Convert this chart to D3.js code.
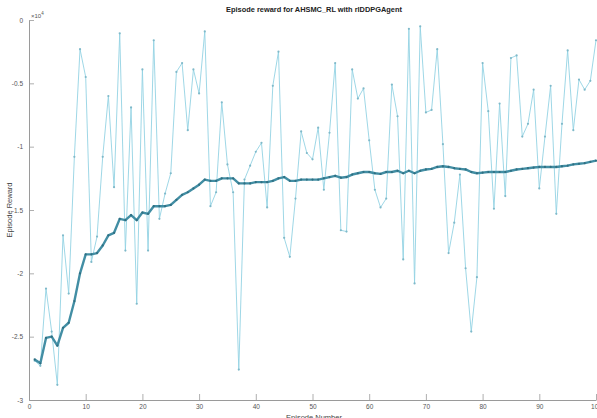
<!DOCTYPE html>
<html>
<head>
<meta charset="utf-8">
<script src="https://cdn.jsdelivr.net/npm/d3@7"></script>
<style>
  html, body { margin: 0; padding: 0; background: #fff; }
  svg { display: block; font-family: "Liberation Sans", Arial, sans-serif; }
</style>
</head>
<body>
<svg id="chart" width="597" height="418"></svg>
<script>
// Episode index 1..100
const episodes = d3.range(1, 101);

// Reward per episode (units of 1e4)
const episodeReward = [
  -2.69, -2.73, -2.12, -2.46, -2.88, -1.70, -2.16, -1.08, -0.23, -0.45,
  -1.91, -1.71, -1.08, -0.60, -1.32, -0.105, -1.82, -0.69, -2.24, -0.39,
  -1.82, -0.16, -1.57, -1.37, -1.21, -0.41, -0.34, -0.87, -0.39, -0.58,
  -0.09, -1.47, -1.36, -0.65, -1.14, -1.36, -2.76, -1.26, -1.15, -1.04,
  -0.97, -1.48, -0.52, -0.25, -1.72, -1.87, -1.41, -0.88, -1.05, -1.10,
  -0.85, -1.34, -0.89, -0.34, -1.66, -1.67, -0.39, -0.62, -0.54, -0.95,
  -1.34, -1.48, -1.41, -0.51, -0.76, -1.89, -0.07, -2.08, -0.05, -0.73,
  -0.71, -0.23, -0.98, -1.84, -1.60, -1.22, -1.96, -2.46, -2.03, -0.34,
  -0.72, -1.49, -0.66, -1.39, -0.30, -0.28, -0.92, -0.82, -0.55, -1.33,
  -0.92, -0.52, -1.53, -0.82, -0.24, -0.87, -0.47, -0.55, -0.48, -0.16
];

// Average reward (units of 1e4)
const averageReward = [
  -2.68, -2.71, -2.51, -2.50, -2.57, -2.43, -2.39, -2.22, -2.00, -1.85,
  -1.85, -1.84, -1.78, -1.70, -1.68, -1.57, -1.58, -1.54, -1.58, -1.52,
  -1.53, -1.47, -1.47, -1.47, -1.46, -1.42, -1.38, -1.36, -1.33, -1.30,
  -1.26, -1.27, -1.27, -1.25, -1.25, -1.25, -1.29, -1.29, -1.29, -1.28,
  -1.28, -1.28, -1.27, -1.25, -1.24, -1.27, -1.27, -1.26, -1.26, -1.26,
  -1.26, -1.25, -1.24, -1.23, -1.245, -1.24, -1.22, -1.21, -1.20, -1.20,
  -1.21, -1.215, -1.20, -1.20, -1.19, -1.21, -1.19, -1.21, -1.19, -1.18,
  -1.175, -1.16, -1.155, -1.16, -1.17, -1.175, -1.18, -1.20, -1.21, -1.205,
  -1.20, -1.20, -1.20, -1.20, -1.19, -1.18, -1.175, -1.17, -1.165, -1.16,
  -1.16, -1.16, -1.16, -1.155, -1.15, -1.14, -1.135, -1.13, -1.12, -1.11
];

const xTicks = [0, 10, 20, 30, 40, 50, 60, 70, 80, 90, 100];
const yTicks = [0, -0.5, -1, -1.5, -2, -2.5, -3];

const titleText = "Episode reward for AHSMC_RL with rlDDPGAgent";
const xLabelText = "Episode Number";
const yLabelText = "Episode Reward";

const svg = d3.select("#chart");
const plotLeft = 29, plotRight = 596, plotTop = 20, plotBottom = 400;

const x = d3.scaleLinear().domain([0, 100]).range([plotLeft, plotRight]);
const y = d3.scaleLinear().domain([-3, 0]).range([plotBottom, plotTop]);

const axisColor = "#9a9a9a";
const textColor = "#555";

// Axes with inward ticks
const xAxis = svg.append("g")
  .attr("transform", `translate(0,${plotBottom})`)
  .call(d3.axisBottom(x).tickValues(xTicks).tickSizeInner(-6).tickSizeOuter(0).tickPadding(4)
        .tickFormat(d3.format("d")));
const yAxis = svg.append("g")
  .attr("transform", `translate(${plotLeft},0)`)
  .call(d3.axisLeft(y).tickValues(yTicks).tickSizeInner(-5).tickSizeOuter(0).tickPadding(6)
        .tickFormat(d => d === 0 ? "0" : String(d)));

[xAxis, yAxis].forEach(g => {
  g.select(".domain").attr("stroke", axisColor).attr("stroke-width", 1);
  g.selectAll(".tick line").attr("stroke", axisColor).attr("stroke-width", 0.8);
  g.selectAll(".tick text").attr("fill", textColor).attr("font-size", 6.5)
    .attr("font-family", "Liberation Sans, Arial, sans-serif");
});

// Exponent label
const expo = svg.append("text")
  .attr("x", plotLeft + 2).attr("y", plotTop - 2)
  .attr("font-size", 6).attr("fill", textColor);
expo.append("tspan").text("\u00d710");
expo.append("tspan").attr("dy", -3).attr("font-size", 4.5).text("4");

// Title
svg.append("text")
  .attr("x", 314).attr("y", 12)
  .attr("text-anchor", "middle")
  .attr("font-size", 7.4).attr("font-weight", "bold").attr("fill", "#222")
  .text(titleText);

// Axis labels
svg.append("text")
  .attr("x", 314).attr("y", 420)
  .attr("text-anchor", "middle")
  .attr("font-size", 7.5).attr("fill", "#444")
  .text(xLabelText);

svg.append("text")
  .attr("transform", `translate(12,210) rotate(-90)`)
  .attr("text-anchor", "middle")
  .attr("font-size", 7.5).attr("fill", "#444")
  .text(yLabelText);

// Shared line generator for both series
const seriesLine = d3.line().x((d, i) => x(episodes[i])).y(d => y(d));

// Episode reward series
const rawColor = "#93d2e3";
svg.append("path")
  .datum(episodeReward)
  .attr("fill", "none")
  .attr("stroke", rawColor)
  .attr("stroke-width", 0.9)
  .attr("d", seriesLine);
svg.append("g").selectAll("circle")
  .data(episodeReward)
  .join("circle")
  .attr("cx", (d, i) => x(episodes[i]))
  .attr("cy", d => y(d))
  .attr("r", 1.1)
  .attr("fill", "#7fb9c9");

// Average reward series
const avgColor = "#428ea4";
svg.append("path")
  .datum(averageReward)
  .attr("fill", "none")
  .attr("stroke", avgColor)
  .attr("stroke-width", 2.4)
  .attr("stroke-linejoin", "round")
  .attr("d", seriesLine);
svg.append("g").selectAll("circle")
  .data(averageReward)
  .join("circle")
  .attr("cx", (d, i) => x(episodes[i]))
  .attr("cy", d => y(d))
  .attr("r", 1.1)
  .attr("fill", "#2f6f82");
</script>
</body>
</html>
